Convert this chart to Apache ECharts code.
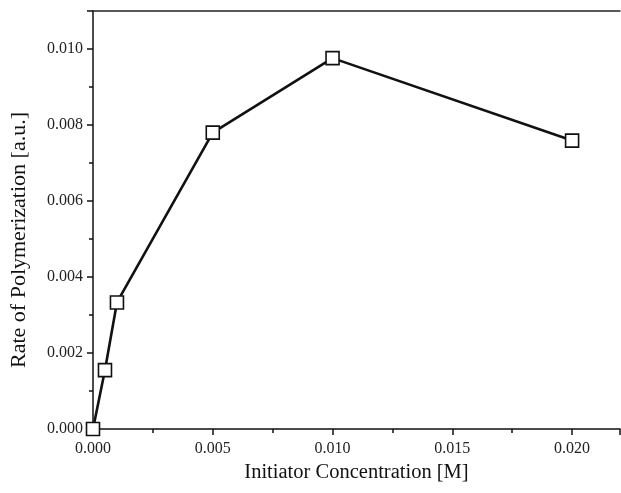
<!DOCTYPE html>
<html><head><meta charset="utf-8">
<script src="https://cdn.jsdelivr.net/npm/echarts@6/dist/echarts.min.js"></script>
<style>html,body{margin:0;padding:0;background:#fff}#c{width:621px;height:493px}</style>
</head><body><div id="c"></div>
<script>
const xValues = [0, 0.0005, 0.001, 0.005, 0.010, 0.020];
const yValues = [0, 0.00155, 0.00333, 0.0078, 0.00976, 0.00759];
const xTitle = 'Initiator Concentration [M]';
const yTitle = 'Rate of Polymerization [a.u.]';

const font = 'Liberation Serif';
const chart = echarts.init(document.getElementById('c'), null, {renderer: 'canvas'});
chart.setOption({
  animation: false,
  backgroundColor: '#fff',
  grid: {left: 93, right: 1, top: 11, bottom: 64},
  xAxis: [{
    type: 'value', min: 0, max: 0.022, interval: 0.005,
    name: xTitle, nameLocation: 'middle', nameGap: 24,
    nameTextStyle: {fontFamily: font, fontSize: 20.5, color: '#111'},
    axisLine: {show: true, lineStyle: {color: '#111', width: 1.5}},
    axisTick: {show: true, inside: false, length: 6, lineStyle: {color: '#111', width: 1.5}},
    minorTick: {show: true, splitNumber: 2, length: 4, lineStyle: {color: '#111', width: 1.5}},
    axisLabel: {fontFamily: font, fontSize: 16, color: '#222', margin: 12,
      formatter: v => v.toFixed(3), showMaxLabel: false},
    splitLine: {show: false}
  }, {
    type: 'value', position: 'top', min: 0, max: 0.022,
    axisLine: {show: true, lineStyle: {color: '#222', width: 1.5}},
    axisTick: {show: false}, axisLabel: {show: false}, splitLine: {show: false}
  }],
  yAxis: {
    type: 'value', min: 0, max: 0.011, interval: 0.002,
    name: yTitle, nameLocation: 'middle', nameGap: 63,
    nameTextStyle: {fontFamily: font, fontSize: 22, color: '#111', padding: [0, 40, 0, 0]},
    axisLine: {show: true, lineStyle: {color: '#111', width: 1.5}},
    axisTick: {show: true, inside: false, length: 6, lineStyle: {color: '#111', width: 1.5}},
    minorTick: {show: true, splitNumber: 2, length: 4, lineStyle: {color: '#111', width: 1.5}},
    axisLabel: {fontFamily: font, fontSize: 16, color: '#222', margin: 10,
      formatter: v => v.toFixed(3), showMaxLabel: false},
    splitLine: {show: false}
  },
  series: [{
    type: 'line',
    data: xValues.map((x, i) => [x, yValues[i]]),
    symbol: 'rect', symbolSize: 13,
    lineStyle: {color: '#111', width: 2.6},
    itemStyle: {color: '#fff', borderColor: '#111', borderWidth: 1.6},
    clip: false, z: 3
  }]
});
</script></body></html>
